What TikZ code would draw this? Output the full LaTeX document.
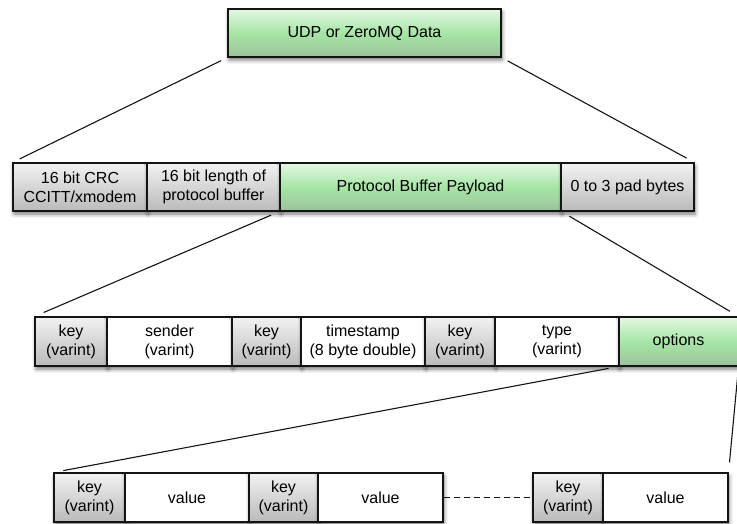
\documentclass[tikz,border=0pt]{standalone}
\usepackage{fontspec}
\setmainfont{Liberation Sans}
\usetikzlibrary{shadows.blur}
\definecolor{edge}{HTML}{141414}
\definecolor{greytop}{HTML}{F2F2F2}
\definecolor{greybot}{HTML}{BABABA}
\definecolor{greentop}{HTML}{E4F7E4}
\definecolor{greenmid}{HTML}{A6E6A6}
\definecolor{greenbot}{HTML}{9CC29C}
\tikzset{
  cell/.style={draw=edge, line width=1.1pt, rectangle, inner sep=0pt,
    minimum height=48pt, align=center,
    font=\fontsize{16}{19}\selectfont,
    blur shadow={shadow xshift=1pt, shadow yshift=-3pt, shadow blur radius=4pt, shadow opacity=55}},
  greycell/.style={cell, top color=greytop, bottom color=greybot},
  greencell/.style={cell, top color=greentop, bottom color=greenbot, middle color=greenmid},
  whitecell/.style={cell, fill=white},
  link/.style={draw=edge, line width=1.1pt},
}
\begin{document}
\begin{tikzpicture}[x=1pt, y=-1pt]
\useasboundingbox (0,0) rectangle (737,524);

% top level: transport frame
\node[greencell, minimum width=273pt] (frame) at (364.5,33) {UDP or ZeroMQ Data};

% second level: packet layout
\node[greycell, minimum width=134pt] (crc) at (80,187) {16 bit CRC\\CCITT/xmodem};
\node[greycell, minimum width=133pt] (len) at (213.5,187) {16 bit length of\\protocol buffer};
\node[greencell, minimum width=281pt] (pbp) at (420.5,187) {Protocol Buffer Payload};
\node[greycell, minimum width=133pt] (pad) at (627.5,187) {0 to 3 pad bytes};

% third level: protocol buffer fields
\node[greycell, minimum width=72pt, minimum height=49pt] (k1) at (71,341.5) {key\\(varint)};
\node[whitecell, minimum width=125pt, minimum height=49pt] (sender) at (169.5,341.5) {sender\\(varint)};
\node[greycell, minimum width=69pt, minimum height=49pt] (k2) at (266.5,341.5) {key\\(varint)};
\node[whitecell, minimum width=124pt, minimum height=49pt] (ts) at (363,341.5) {timestamp\\(8 byte double)};
\node[greycell, minimum width=70pt, minimum height=49pt] (k3) at (460,341.5) {key\\(varint)};
\node[whitecell, minimum width=124pt, minimum height=49pt] (type) at (557,341.5) {type\\(varint)};
\node[greencell, minimum width=119pt, minimum height=49pt] (opts) at (678.5,341.5) {options};

% fourth level: option key/value pairs
\node[greycell, minimum width=71pt, minimum height=49pt] (a1) at (89.5,497.5) {key\\(varint)};
\node[whitecell, minimum width=124pt, minimum height=49pt] (v1) at (187,497.5) {value};
\node[greycell, minimum width=69pt, minimum height=49pt] (a2) at (283.5,497.5) {key\\(varint)};
\node[whitecell, minimum width=125pt, minimum height=49pt] (v2) at (380.5,497.5) {value};
\node[greycell, minimum width=70pt, minimum height=49pt] (a3) at (568,497.5) {key\\(varint)};
\node[whitecell, minimum width=125pt, minimum height=49pt] (v3) at (665.5,497.5) {value};

% expansion lines
\draw[link, shorten <=7pt, shorten >=8pt] (frame.south west) -- (crc.north west);
\draw[link, shorten <=7pt, shorten >=9pt] (frame.south east) -- (pad.north east);
\draw[link, shorten <=9pt, shorten >=10pt] (pbp.south west) -- (k1.north west);
\draw[link, shorten <=9pt, shorten >=10pt] (pbp.south east) -- (opts.north east);
\draw[link, shorten <=10pt, shorten >=10pt] (opts.south west) -- (a1.north west);
\draw[link, shorten <=10pt, shorten >=10pt] (opts.south east) -- (v3.north east);

% repeated pairs
\draw[link, dash pattern=on 6pt off 4pt] (v2.east) -- (a3.west);
\end{tikzpicture}
\end{document}
